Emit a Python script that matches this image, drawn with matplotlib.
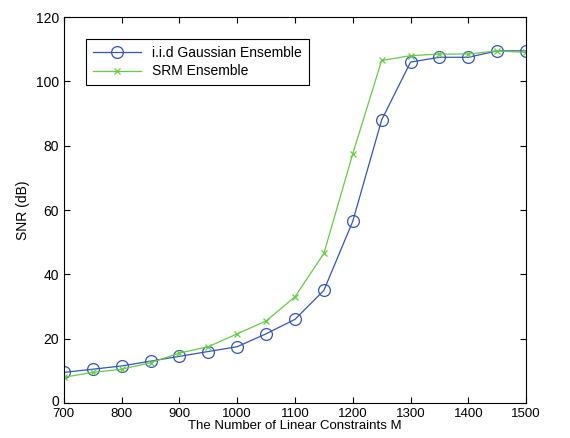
import numpy as np
import matplotlib
matplotlib.use('Agg')
import matplotlib.pyplot as plt
import matplotlib.transforms as mtransforms

plt.rcParams['font.family'] = ['Liberation Sans', 'DejaVu Sans']

# Data
m_values = [700, 750, 800, 850, 900, 950, 1000, 1050, 1100, 1150,
            1200, 1250, 1300, 1350, 1400, 1450, 1500]
snr_gauss = [9.5, 10.5, 11.5, 13, 14.5, 16, 17.5, 21.5, 26, 35,
             56.5, 88, 106, 107.5, 107.5, 109.5, 109.5]
snr_srm = [8, 9.5, 10.5, 12.5, 15.5, 17.5, 21.5, 25.5, 33, 46.5,
           77.5, 106.5, 108, 108.5, 108.5, 109.5, 109]

fig = plt.figure(figsize=(5.7, 4.38), dpi=100)
ax = fig.add_axes([0.112, 0.08, 0.811, 0.881])

ax.plot(m_values, snr_gauss, color='#3355bb', lw=0.9, marker='o', ms=8.5,
        mfc='none', mew=0.9, label='i.i.d Gaussian Ensemble')
ax.plot(m_values, snr_srm, color='#66cc44', lw=0.9, marker='x', ms=5,
        mew=0.9, label='SRM Ensemble')

ax.set_xlim(700, 1500)
ax.set_ylim(0, 120)
ax.set_xticks(np.arange(700, 1501, 100))
ax.set_yticks(np.arange(0, 121, 20))
ax.tick_params(direction='in', top=True, right=True, labelsize=10, length=4)
ax.tick_params(axis='x', pad=3.5, labelsize=9.5)
ax.set_xlabel('The Number of Linear Constraints M', fontsize=9.5, labelpad=0)
ax.set_ylabel('SNR (dB)', fontsize=10, labelpad=4)

# lift the "0" label a little so it doesn't collide with "700"
zero_lbl = ax.get_yticklabels()[0]
zero_lbl.set_transform(zero_lbl.get_transform() +
                       mtransforms.ScaledTranslation(0, 2 / 72, fig.dpi_scale_trans))

leg = ax.legend(loc='upper left', bbox_to_anchor=(0.032, 0.962), fontsize=10,
                fancybox=False, edgecolor='black', framealpha=1,
                handlelength=3.5, borderpad=0.5, labelspacing=0.35)
leg.get_frame().set_linewidth(0.8)

fig.savefig('out.png', dpi=100)
